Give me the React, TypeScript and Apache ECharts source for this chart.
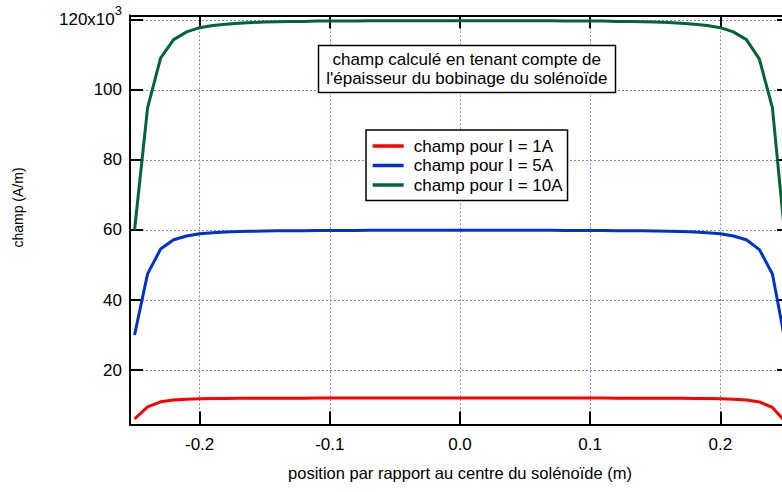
import React, { useEffect, useRef } from 'react';
import * as echarts from 'echarts';

const positions = [
  -0.25, -0.24, -0.23, -0.22, -0.21, -0.2, -0.19, -0.18, -0.17, -0.16, -0.15, -0.14, -0.13,
  -0.12, -0.11, -0.1, -0.09, -0.08, -0.07, -0.06, -0.05, -0.04, -0.03, -0.02, -0.01, 0,
  0.01, 0.02, 0.03, 0.04, 0.05, 0.06, 0.07, 0.08, 0.09, 0.1, 0.11, 0.12, 0.13, 0.14, 0.15,
  0.16, 0.17, 0.18, 0.19, 0.2, 0.21, 0.22, 0.23, 0.24, 0.25,
];

const champ1A = [
  6000, 9490, 10910, 11440, 11660, 11780, 11840, 11880, 11910, 11930, 11940, 11950, 11960,
  11960, 11970, 11970, 11970, 11970,
  11980, 11980, 11980, 11980, 11980, 11980, 11980, 11980, 11980, 11980, 11980, 11980, 11980,
  11980, 11980,
  11970, 11970, 11970, 11970, 11960, 11960, 11950, 11940, 11930, 11910, 11880, 11840, 11780,
  11660, 11440, 10880, 9300, 5200,
];

const champ5A = [
  30000, 47450, 54550, 57200, 58300, 58900, 59200, 59400, 59550, 59650, 59700, 59750, 59800,
  59800, 59850, 59850, 59850, 59850,
  59900, 59900, 59900, 59900, 59900, 59900, 59900, 59900, 59900, 59900, 59900, 59900, 59900,
  59900, 59900,
  59850, 59850, 59850, 59850, 59800, 59800, 59750, 59700, 59650, 59550, 59400, 59200, 58900,
  58300, 57200, 54400, 47450, 27800,
];

const champ10A = [
  60000, 94900, 109100, 114400, 116600, 117800, 118400, 118800, 119100, 119300, 119400, 119500,
  119600, 119600, 119700, 119700, 119700, 119700,
  119800, 119800, 119800, 119800, 119800, 119800, 119800, 119800, 119800, 119800, 119800,
  119800, 119800, 119800, 119800,
  119700, 119700, 119700, 119700, 119600, 119600, 119500, 119400, 119300, 119100, 118800,
  118400, 117800, 116600, 114400, 108800, 94900, 56500,
];

const seriesNames = ['champ pour I = 1A', 'champ pour I = 5A', 'champ pour I = 10A'];
const seriesColors = ['#ff0000', '#0033cc', '#006633'];

const xTitle = 'position par rapport au centre du solénoïde (m)';
const yTitle = 'champ (A/m)';
const noteLines = ['champ calculé en tenant compte de', "l'épaisseur du bobinage du solénoïde"];

const X_MIN = -0.2535;
const X_MAX = 0.2535;
const Y_MIN = 4430;
const Y_MAX = 121340;

const FONT = '"Liberation Sans", Arial, Helvetica, sans-serif';

export default function App() {
  const ref = useRef<HTMLDivElement>(null);

  useEffect(() => {
    if (!ref.current) return;
    const chart = echarts.init(ref.current, null, { renderer: 'svg' });

    const xFormatter = (v: number) => {
      const r = Math.round(v * 10);
      if (Math.abs(v * 10 - r) > 1e-6) return '';
      return (r / 10).toFixed(1);
    };
    const yFormatter = (v: number) => {
      const k = Math.round(v / 1000);
      if (Math.abs(v - k * 1000) > 1 || k % 20 !== 0) return '';
      if (k === 120) return '{a|120x10}{b|3}';
      return '{a|' + String(k) + '}';
    };

    const axisLine = { show: true, onZero: false, lineStyle: { color: '#000', width: 2 } };
    const axisTick = { show: true, inside: true, length: 13, lineStyle: { color: '#000', width: 2 } };
    const splitLine = { show: true, lineStyle: { color: '#8080ff', width: 1, type: [2, 2] as any } };

    const makeSeries = (name: string, color: string, values: number[]) => ({
      name,
      type: 'line',
      xAxisIndex: 0,
      yAxisIndex: 0,
      data: positions.map((x, i) => [x, values[i]]),
      showSymbol: false,
      symbol: 'none',
      color,
      itemStyle: { color },
      lineStyle: { color, width: 3 },
      z: 3,
    });

    chart.setOption({
      animation: false,
      textStyle: { fontFamily: FONT, color: '#000' },
      grid: { left: 130, top: 15.3, width: 660, height: 409.2, containLabel: false },
      xAxis: [
        {
          type: 'value',
          position: 'bottom',
          min: X_MIN,
          max: X_MAX,
          axisLine,
          axisTick,
          splitLine,
          axisLabel: {
            formatter: xFormatter,
            showMinLabel: false,
            showMaxLabel: false,
            fontSize: 17,
            lineHeight: 20,
            margin: 9.5,
            color: '#000',
            fontFamily: FONT,
          },
          name: xTitle,
          nameLocation: 'middle',
          nameGap: 38,
          nameTextStyle: { fontSize: 16.5, lineHeight: 20, color: '#000', fontFamily: FONT },
        },
        {
          type: 'value',
          position: 'top',
          min: X_MIN,
          max: X_MAX,
          axisLine,
          axisTick,
          splitLine: { show: false },
          axisLabel: { show: false },
        },
      ],
      yAxis: [
        {
          type: 'value',
          position: 'left',
          min: Y_MIN,
          max: Y_MAX,
          axisLine,
          axisTick,
          splitLine,
          axisLabel: {
            formatter: yFormatter,
            showMinLabel: false,
            showMaxLabel: false,
            margin: 8,
            color: '#000',
            fontFamily: FONT,
            rich: {
              a: { fontSize: 17, color: '#000', fontFamily: FONT },
              b: { fontSize: 13, color: '#000', fontFamily: FONT, padding: [0, 0, 19, 0] },
            },
          },
        },
        {
          type: 'value',
          position: 'right',
          min: Y_MIN,
          max: Y_MAX,
          axisLine,
          axisTick,
          splitLine: { show: false },
          axisLabel: { show: false },
        },
      ],
      legend: {
        show: true,
        data: seriesNames,
        orient: 'vertical',
        left: 366,
        top: 130,
        icon: 'rect',
        itemWidth: 31,
        itemHeight: 3.5,
        itemGap: 0.5,
        padding: [6.5, 5, 6, 6.7],
        borderColor: '#000',
        borderWidth: 1.5,
        backgroundColor: '#fff',
        selectedMode: false,
        textStyle: {
          fontSize: 17,
          lineHeight: 19,
          color: '#000',
          fontFamily: FONT,
          padding: [0, 0, 0, 5],
        },
        z: 10,
      },
      graphic: [
        {
          type: 'rect',
          z: 20,
          shape: { x: 318.5, y: 45.5, width: 297, height: 47 },
          style: { fill: '#fff', stroke: '#000', lineWidth: 1.5 },
        },
        {
          type: 'text',
          z: 21,
          x: 466.8,
          y: 69,
          style: {
            text: noteLines.join('\n'),
            fontSize: 17,
            lineHeight: 19.5,
            fontFamily: FONT,
            fill: '#000',
            align: 'center',
            verticalAlign: 'middle',
          },
        },
        {
          type: 'text',
          z: 21,
          x: 18,
          y: 207.5,
          rotation: Math.PI / 2,
          style: {
            text: yTitle,
            fontSize: 14,
            fontFamily: FONT,
            fill: '#000',
            align: 'center',
            verticalAlign: 'middle',
          },
        },
      ],
      series: [
        makeSeries(seriesNames[0], seriesColors[0], champ1A),
        makeSeries(seriesNames[1], seriesColors[1], champ5A),
        makeSeries(seriesNames[2], seriesColors[2], champ10A),
      ],
    });

    return () => {
      chart.dispose();
    };
  }, []);

  return (
    <div
      style={{
        position: 'absolute',
        left: 0,
        top: 0,
        width: 782,
        height: 492,
        overflow: 'hidden',
        background: '#fff',
      }}
    >
      <div ref={ref} style={{ width: 800, height: 492 }} />
    </div>
  );
}
